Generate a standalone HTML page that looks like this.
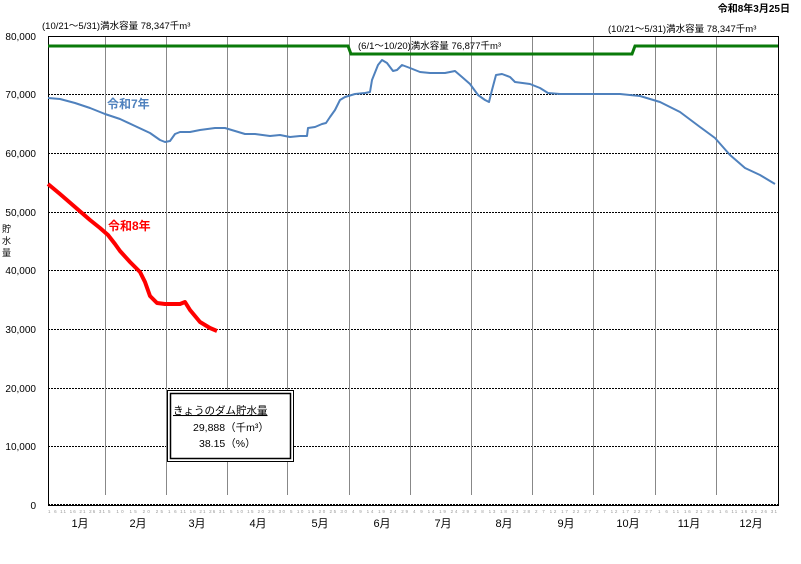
<!DOCTYPE html>
<html><head><meta charset="utf-8"><style>
body{margin:0;background:#fff;}
svg{display:block;font-family:"Liberation Sans","Noto Sans CJK JP",sans-serif;}
</style></head><body>
<svg width="801" height="564" viewBox="0 0 801 564" xmlns="http://www.w3.org/2000/svg">
<rect width="801" height="564" fill="#fff"/>
<text x="790" y="12" font-size="10" font-weight="bold" text-anchor="end">令和8年3月25日</text>
<text x="42" y="29" font-size="9.5">(10/21～5/31)満水容量  78,347千m³</text>
<text x="608" y="32" font-size="9.5">(10/21～5/31)満水容量  78,347千m³</text>
<!-- horizontal grid -->
<g stroke="#000" stroke-width="1" stroke-dasharray="2,1">
<line x1="48" x2="778" y1="94.5" y2="94.5"/>
<line x1="48" x2="778" y1="153.5" y2="153.5"/>
<line x1="48" x2="778" y1="212.5" y2="212.5"/>
<line x1="48" x2="778" y1="270.5" y2="270.5"/>
<line x1="48" x2="778" y1="329.5" y2="329.5"/>
<line x1="48" x2="778" y1="388.5" y2="388.5"/>
<line x1="48" x2="778" y1="446.5" y2="446.5"/>
<line x1="48" x2="778" y1="504.5" y2="504.5"/>
</g>
<!-- vertical month lines -->
<g stroke="#888" stroke-width="1">
<line x1="105.5" x2="105.5" y1="36" y2="495"/>
<line x1="166.5" x2="166.5" y1="36" y2="495"/>
<line x1="227.5" x2="227.5" y1="36" y2="495"/>
<line x1="287.5" x2="287.5" y1="36" y2="495"/>
<line x1="349.5" x2="349.5" y1="36" y2="495"/>
<line x1="410.5" x2="410.5" y1="36" y2="495"/>
<line x1="471.5" x2="471.5" y1="36" y2="495"/>
<line x1="532.5" x2="532.5" y1="36" y2="495"/>
<line x1="593.5" x2="593.5" y1="36" y2="495"/>
<line x1="655.5" x2="655.5" y1="36" y2="495"/>
<line x1="716.5" x2="716.5" y1="36" y2="495"/>
</g>
<rect x="48.5" y="36.5" width="730" height="469" fill="none" stroke="#000" stroke-width="1"/>
<!-- y labels -->
<g font-size="10" text-anchor="end">
<text x="36" y="40">80,000</text>
<text x="36" y="98">70,000</text>
<text x="36" y="157">60,000</text>
<text x="36" y="216">50,000</text>
<text x="36" y="274">40,000</text>
<text x="36" y="333">30,000</text>
<text x="36" y="392">20,000</text>
<text x="36" y="450">10,000</text>
<text x="36" y="509">0</text>
</g>
<g font-size="9"><text x="2" y="232">貯</text><text x="2" y="244">水</text><text x="2" y="256">量</text></g>
<!-- green -->
<polyline fill="none" stroke="#0a7a0a" stroke-width="3" points="48,46 348,46 351,54 632,54 635,46 778,46"/>
<text x="358" y="49" font-size="9.5">(6/1～10/20)満水容量  76,877千m³</text>
<!-- blue -->
<polyline fill="none" stroke="#4f81bd" stroke-width="2" stroke-linejoin="round" points="48,98 60,99 75,103 90,108 105,114 120,119 135,126 150,133 160,140 165,142 170,141 175,134 180,132 190,132 200,130 215,128 225,128 235,131 245,134 255,134 270,136 280,135 290,137 300,136 307,136 308,128 315,127 322,124 326,123 330,117 335,110 340,100 345,97 355,94 365,93 370,92 372,80 378,65 382,60 387,63 393,71 397,70 402,65 410,68 420,72 430,73 445,73 455,71 462,77 470,84 478,95 485,100 489,102 492,90 496,75 502,74 510,77 515,82 530,84 540,88 548,93 560,94 580,94 600,94 620,94 640,96 660,102 680,112 700,127 715,138 730,155 745,168 760,175 775,184"/>
<text x="107" y="108" font-size="12" font-weight="bold" fill="#4f81bd">令和7年</text>
<!-- red -->
<polyline fill="none" stroke="#ff0000" stroke-width="4" stroke-linejoin="round" points="48,184 60,194 75,207 90,220 100,228 108,235 115,244 120,251 130,262 140,272 145,282 150,296 157,303 165,304 172,304 180,304 185,302 190,310 200,322 210,328 217,331"/>
<text x="108" y="230" font-size="12" font-weight="bold" fill="#ff0000">令和8年</text>
<!-- box -->
<rect x="167.5" y="390.5" width="126" height="71" fill="#fff" stroke="#000"/>
<rect x="170.5" y="393.5" width="120" height="65" fill="none" stroke="#000" stroke-width="1.5"/>
<text x="173" y="414" font-size="10.5" text-decoration="underline">きょうのダム貯水量</text>
<text x="193" y="431" font-size="10.5">29,888（千m³）</text>
<text x="199" y="447" font-size="10.5">38.15（%）</text>
<!-- day ticks -->
<g font-size="4.5" fill="#999">
<text x="48" y="513" textLength="57">1  6  11  16  21  26  31</text>
<text x="108" y="513" textLength="55">5  10  15  20  25</text>
<text x="168" y="513" textLength="57">1  6  11  16  21  26  31</text>
<text x="230" y="513" textLength="55">5  10  15  20  25  30</text>
<text x="290" y="513" textLength="57">5  10  15  20  25  30</text>
<text x="352" y="513" textLength="56">4  9  14  19  24  29</text>
<text x="413" y="513" textLength="56">4  9  14  19  24  29</text>
<text x="474" y="513" textLength="56">3  8  13  18  23  28</text>
<text x="535" y="513" textLength="56">2  7  12  17  22  27</text>
<text x="596" y="513" textLength="56">2  7  12  17  22  27</text>
<text x="658" y="513" textLength="56">1  6  11  16  21  26</text>
<text x="719" y="513" textLength="58">1  6  11  16  21  26  31</text>
</g>
<g font-size="11" text-anchor="middle">
<text x="80" y="527">1月</text>
<text x="138" y="527">2月</text>
<text x="197" y="527">3月</text>
<text x="258" y="527">4月</text>
<text x="320" y="527">5月</text>
<text x="382" y="527">6月</text>
<text x="443" y="527">7月</text>
<text x="504" y="527">8月</text>
<text x="566" y="527">9月</text>
<text x="628" y="527">10月</text>
<text x="689" y="527">11月</text>
<text x="751" y="527">12月</text>
</g>
</svg>
</body></html>
